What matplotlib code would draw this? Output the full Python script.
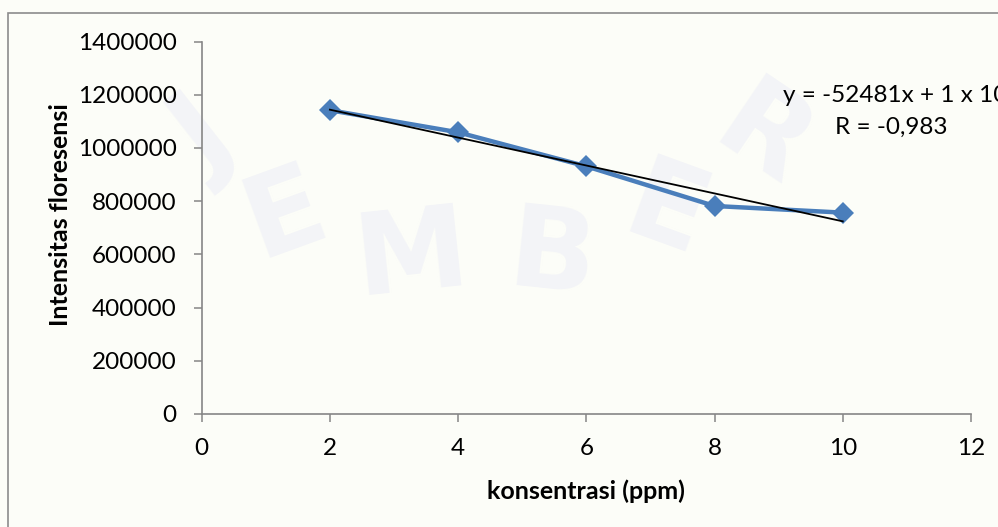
import numpy as np
import matplotlib
matplotlib.use("Agg")
import matplotlib.pyplot as plt
from matplotlib.patches import Rectangle

plt.rcParams['font.family'] = ['Lato', 'DejaVu Sans']

# data
konsentrasi = [2, 4, 6, 8, 10]
intensitas = [1142000, 1059000, 931000, 782000, 757000]
x_ticks = [0, 2, 4, 6, 8, 10, 12]
y_ticks = [0, 200000, 400000, 600000, 800000, 1000000, 1200000, 1400000]

# linear trendline, slope as printed in the equation
slope = -52481
intercept = np.mean(intensitas) - slope * np.mean(konsentrasi)
eq_text = "y = -52481x + 1 x 10\u2076"
r_text = "R = -0,983"

W, H = 998, 527
fig = plt.figure(figsize=(W / 100, H / 100), dpi=100)
bg = '#fcfdf8'
fig.patch.set_facecolor(bg)

def px(x, y):
    return x / W, 1 - y / H

# faint watermark lettering behind the chart
wm = '#f3f4f7'
for ch, (cx, cy), rot in [("J", (205, 140), 38), ("E", (285, 215), 20),
                          ("M", (412, 258), 6), ("B", (552, 258), -6),
                          ("E", (666, 215), -20), ("R", (762, 140), -34)]:
    fx, fy = px(cx, cy)
    fig.text(fx, fy, ch, fontsize=82, fontweight='bold', color=wm,
             ha='center', va='center', rotation=rot, zorder=-5,
             family='DejaVu Sans')

# chart area border (runs past right and bottom edges)
x0, y0 = px(8, 13)
fig.add_artist(Rectangle((x0, -0.1), 1.2, y0 + 0.1, transform=fig.transFigure,
                         fill=False, edgecolor='#8c8c8c', linewidth=1.2))

left, right = 201.7 / W, 971 / W
bottom, top = 1 - 414 / H, 1 - 41.6 / H
ax = fig.add_axes([left, bottom, right - left, top - bottom])
ax.patch.set_alpha(0)

ax.plot(konsentrasi, intensitas, color='#4a7ebb', linewidth=3.2,
        marker='D', markersize=11, markeredgewidth=0, zorder=3)
xt = np.array([konsentrasi[0], konsentrasi[-1]])
ax.plot(xt, slope * xt + intercept, color='black', linewidth=1.3, zorder=4)

ax.set_xlim(0, 12)
ax.set_ylim(0, 1400000)
ax.set_xticks(x_ticks)
ax.set_yticks(y_ticks)
ax.set_xticklabels([str(v) for v in x_ticks])
ax.set_yticklabels([str(v) for v in y_ticks])

for s in ['top', 'right']:
    ax.spines[s].set_visible(False)
for s in ['left', 'bottom']:
    ax.spines[s].set_color('#868686')
    ax.spines[s].set_linewidth(1.2)
ax.tick_params(axis='both', direction='out', length=6, width=1.1,
               color='#868686', labelsize=17.5, labelcolor='black')
ax.tick_params(axis='x', pad=11)
ax.tick_params(axis='y', pad=12)

fx, fy = px(586, 491)
fig.text(fx, fy, "konsentrasi (ppm)", fontsize=18, fontweight='bold',
         ha='center', va='center')
fx, fy = px(60, 215)
fig.text(fx, fy, "Intensitas floresensi", fontsize=18, fontweight='bold',
         ha='center', va='center', rotation=90)

# equation runs off the right edge of the chart area
fx, fy = px(783, 102)
fig.text(fx, fy, eq_text, fontsize=17.5, ha='left', va='baseline')
fx, fy = px(891, 134)
fig.text(fx, fy, r_text, fontsize=17.5, ha='center', va='baseline')

fig.savefig("out.png", dpi=100, facecolor=bg)
